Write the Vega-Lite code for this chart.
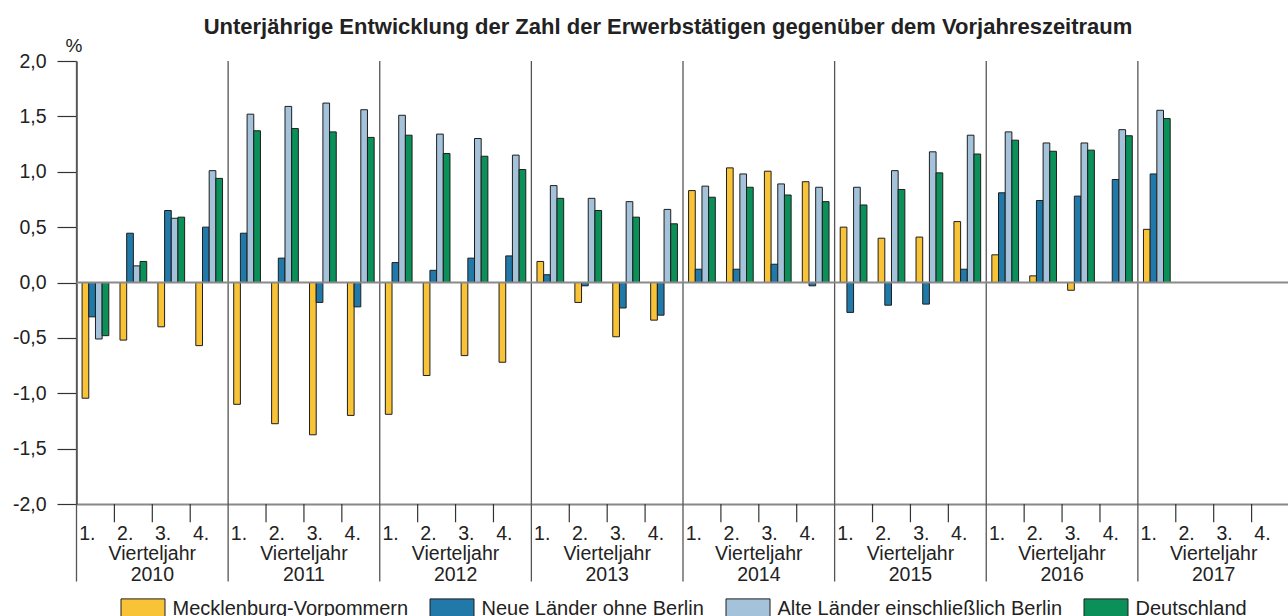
{
  "$schema": "https://vega.github.io/schema/vega-lite/v6.json",
  "width": 1213,
  "height": 443,
  "autosize": "none",
  "padding": {"left": 76.5, "top": 61, "right": 0, "bottom": 112},
  "config": {
    "font": "Liberation Sans",
    "view": {"stroke": null},
    "axis": {"grid": false}
  },
  "title": {
    "text": "Unterjährige Entwicklung der Zahl der Erwerbstätigen gegenüber dem Vorjahreszeitraum",
    "font": "Liberation Sans",
    "fontSize": 22,
    "fontWeight": "bold",
    "color": "#222222",
    "anchor": "middle",
    "frame": "group",
    "baseline": "alphabetic",
    "offset": 6.5,
    "dx": -15,
    "dy": 26
  },
  "datasets": {
    "years": [
      {"q": "2010-1", "m": "2010-3", "yr": "2010"},
      {"q": "2011-1", "m": "2011-3", "yr": "2011"},
      {"q": "2012-1", "m": "2012-3", "yr": "2012"},
      {"q": "2013-1", "m": "2013-3", "yr": "2013"},
      {"q": "2014-1", "m": "2014-3", "yr": "2014"},
      {"q": "2015-1", "m": "2015-3", "yr": "2015"},
      {"q": "2016-1", "m": "2016-3", "yr": "2016"},
      {"q": "2017-1", "m": "2017-3", "yr": "2017"}
    ],
    "quarters": [
      {"q": "2010-2"}, {"q": "2010-3"}, {"q": "2010-4"},
      {"q": "2011-2"}, {"q": "2011-3"}, {"q": "2011-4"},
      {"q": "2012-2"}, {"q": "2012-3"}, {"q": "2012-4"},
      {"q": "2013-2"}, {"q": "2013-3"}, {"q": "2013-4"},
      {"q": "2014-2"}, {"q": "2014-3"}, {"q": "2014-4"},
      {"q": "2015-2"}, {"q": "2015-3"}, {"q": "2015-4"},
      {"q": "2016-2"}, {"q": "2016-3"}, {"q": "2016-4"},
      {"q": "2017-2"}, {"q": "2017-3"}, {"q": "2017-4"}
    ],
    "bars": [
      {"q": "2010-1", "s": "Mecklenburg-Vorpommern", "v": -1.045},
      {"q": "2010-1", "s": "Neue Länder ohne Berlin", "v": -0.31},
      {"q": "2010-1", "s": "Alte Länder einschließlich Berlin", "v": -0.51},
      {"q": "2010-1", "s": "Deutschland", "v": -0.48},
      {"q": "2010-2", "s": "Mecklenburg-Vorpommern", "v": -0.52},
      {"q": "2010-2", "s": "Neue Länder ohne Berlin", "v": 0.445},
      {"q": "2010-2", "s": "Alte Länder einschließlich Berlin", "v": 0.15},
      {"q": "2010-2", "s": "Deutschland", "v": 0.19},
      {"q": "2010-3", "s": "Mecklenburg-Vorpommern", "v": -0.4},
      {"q": "2010-3", "s": "Neue Länder ohne Berlin", "v": 0.65},
      {"q": "2010-3", "s": "Alte Länder einschließlich Berlin", "v": 0.58},
      {"q": "2010-3", "s": "Deutschland", "v": 0.59},
      {"q": "2010-4", "s": "Mecklenburg-Vorpommern", "v": -0.57},
      {"q": "2010-4", "s": "Neue Länder ohne Berlin", "v": 0.5},
      {"q": "2010-4", "s": "Alte Länder einschließlich Berlin", "v": 1.01},
      {"q": "2010-4", "s": "Deutschland", "v": 0.94},
      {"q": "2011-1", "s": "Mecklenburg-Vorpommern", "v": -1.1},
      {"q": "2011-1", "s": "Neue Länder ohne Berlin", "v": 0.445},
      {"q": "2011-1", "s": "Alte Länder einschließlich Berlin", "v": 1.52},
      {"q": "2011-1", "s": "Deutschland", "v": 1.37},
      {"q": "2011-2", "s": "Mecklenburg-Vorpommern", "v": -1.275},
      {"q": "2011-2", "s": "Neue Länder ohne Berlin", "v": 0.22},
      {"q": "2011-2", "s": "Alte Länder einschließlich Berlin", "v": 1.59},
      {"q": "2011-2", "s": "Deutschland", "v": 1.39},
      {"q": "2011-3", "s": "Mecklenburg-Vorpommern", "v": -1.375},
      {"q": "2011-3", "s": "Neue Länder ohne Berlin", "v": -0.18},
      {"q": "2011-3", "s": "Alte Länder einschließlich Berlin", "v": 1.62},
      {"q": "2011-3", "s": "Deutschland", "v": 1.36},
      {"q": "2011-4", "s": "Mecklenburg-Vorpommern", "v": -1.2},
      {"q": "2011-4", "s": "Neue Länder ohne Berlin", "v": -0.22},
      {"q": "2011-4", "s": "Alte Länder einschließlich Berlin", "v": 1.56},
      {"q": "2011-4", "s": "Deutschland", "v": 1.31},
      {"q": "2012-1", "s": "Mecklenburg-Vorpommern", "v": -1.19},
      {"q": "2012-1", "s": "Neue Länder ohne Berlin", "v": 0.18},
      {"q": "2012-1", "s": "Alte Länder einschließlich Berlin", "v": 1.51},
      {"q": "2012-1", "s": "Deutschland", "v": 1.33},
      {"q": "2012-2", "s": "Mecklenburg-Vorpommern", "v": -0.84},
      {"q": "2012-2", "s": "Neue Länder ohne Berlin", "v": 0.11},
      {"q": "2012-2", "s": "Alte Länder einschließlich Berlin", "v": 1.34},
      {"q": "2012-2", "s": "Deutschland", "v": 1.165},
      {"q": "2012-3", "s": "Mecklenburg-Vorpommern", "v": -0.66},
      {"q": "2012-3", "s": "Neue Länder ohne Berlin", "v": 0.22},
      {"q": "2012-3", "s": "Alte Länder einschließlich Berlin", "v": 1.3},
      {"q": "2012-3", "s": "Deutschland", "v": 1.14},
      {"q": "2012-4", "s": "Mecklenburg-Vorpommern", "v": -0.72},
      {"q": "2012-4", "s": "Neue Länder ohne Berlin", "v": 0.24},
      {"q": "2012-4", "s": "Alte Länder einschließlich Berlin", "v": 1.15},
      {"q": "2012-4", "s": "Deutschland", "v": 1.02},
      {"q": "2013-1", "s": "Mecklenburg-Vorpommern", "v": 0.19},
      {"q": "2013-1", "s": "Neue Länder ohne Berlin", "v": 0.07},
      {"q": "2013-1", "s": "Alte Länder einschließlich Berlin", "v": 0.875},
      {"q": "2013-1", "s": "Deutschland", "v": 0.76},
      {"q": "2013-2", "s": "Mecklenburg-Vorpommern", "v": -0.18},
      {"q": "2013-2", "s": "Neue Länder ohne Berlin", "v": -0.03},
      {"q": "2013-2", "s": "Alte Länder einschließlich Berlin", "v": 0.76},
      {"q": "2013-2", "s": "Deutschland", "v": 0.65},
      {"q": "2013-3", "s": "Mecklenburg-Vorpommern", "v": -0.49},
      {"q": "2013-3", "s": "Neue Länder ohne Berlin", "v": -0.23},
      {"q": "2013-3", "s": "Alte Länder einschließlich Berlin", "v": 0.73},
      {"q": "2013-3", "s": "Deutschland", "v": 0.59},
      {"q": "2013-4", "s": "Mecklenburg-Vorpommern", "v": -0.34},
      {"q": "2013-4", "s": "Neue Länder ohne Berlin", "v": -0.295},
      {"q": "2013-4", "s": "Alte Länder einschließlich Berlin", "v": 0.66},
      {"q": "2013-4", "s": "Deutschland", "v": 0.53},
      {"q": "2014-1", "s": "Mecklenburg-Vorpommern", "v": 0.83},
      {"q": "2014-1", "s": "Neue Länder ohne Berlin", "v": 0.12},
      {"q": "2014-1", "s": "Alte Länder einschließlich Berlin", "v": 0.87},
      {"q": "2014-1", "s": "Deutschland", "v": 0.77},
      {"q": "2014-2", "s": "Mecklenburg-Vorpommern", "v": 1.035},
      {"q": "2014-2", "s": "Neue Länder ohne Berlin", "v": 0.12},
      {"q": "2014-2", "s": "Alte Länder einschließlich Berlin", "v": 0.98},
      {"q": "2014-2", "s": "Deutschland", "v": 0.86},
      {"q": "2014-3", "s": "Mecklenburg-Vorpommern", "v": 1.005},
      {"q": "2014-3", "s": "Neue Länder ohne Berlin", "v": 0.165},
      {"q": "2014-3", "s": "Alte Länder einschließlich Berlin", "v": 0.89},
      {"q": "2014-3", "s": "Deutschland", "v": 0.79},
      {"q": "2014-4", "s": "Mecklenburg-Vorpommern", "v": 0.91},
      {"q": "2014-4", "s": "Neue Länder ohne Berlin", "v": -0.03},
      {"q": "2014-4", "s": "Alte Länder einschließlich Berlin", "v": 0.86},
      {"q": "2014-4", "s": "Deutschland", "v": 0.73},
      {"q": "2015-1", "s": "Mecklenburg-Vorpommern", "v": 0.5},
      {"q": "2015-1", "s": "Neue Länder ohne Berlin", "v": -0.27},
      {"q": "2015-1", "s": "Alte Länder einschließlich Berlin", "v": 0.86},
      {"q": "2015-1", "s": "Deutschland", "v": 0.7},
      {"q": "2015-2", "s": "Mecklenburg-Vorpommern", "v": 0.4},
      {"q": "2015-2", "s": "Neue Länder ohne Berlin", "v": -0.205},
      {"q": "2015-2", "s": "Alte Länder einschließlich Berlin", "v": 1.01},
      {"q": "2015-2", "s": "Deutschland", "v": 0.84},
      {"q": "2015-3", "s": "Mecklenburg-Vorpommern", "v": 0.41},
      {"q": "2015-3", "s": "Neue Länder ohne Berlin", "v": -0.195},
      {"q": "2015-3", "s": "Alte Länder einschließlich Berlin", "v": 1.18},
      {"q": "2015-3", "s": "Deutschland", "v": 0.99},
      {"q": "2015-4", "s": "Mecklenburg-Vorpommern", "v": 0.55},
      {"q": "2015-4", "s": "Neue Länder ohne Berlin", "v": 0.12},
      {"q": "2015-4", "s": "Alte Länder einschließlich Berlin", "v": 1.33},
      {"q": "2015-4", "s": "Deutschland", "v": 1.16},
      {"q": "2016-1", "s": "Mecklenburg-Vorpommern", "v": 0.25},
      {"q": "2016-1", "s": "Neue Länder ohne Berlin", "v": 0.81},
      {"q": "2016-1", "s": "Alte Länder einschließlich Berlin", "v": 1.36},
      {"q": "2016-1", "s": "Deutschland", "v": 1.285},
      {"q": "2016-2", "s": "Mecklenburg-Vorpommern", "v": 0.06},
      {"q": "2016-2", "s": "Neue Länder ohne Berlin", "v": 0.74},
      {"q": "2016-2", "s": "Alte Länder einschließlich Berlin", "v": 1.26},
      {"q": "2016-2", "s": "Deutschland", "v": 1.185},
      {"q": "2016-3", "s": "Mecklenburg-Vorpommern", "v": -0.07},
      {"q": "2016-3", "s": "Neue Länder ohne Berlin", "v": 0.78},
      {"q": "2016-3", "s": "Alte Länder einschließlich Berlin", "v": 1.26},
      {"q": "2016-3", "s": "Deutschland", "v": 1.195},
      {"q": "2016-4", "s": "Mecklenburg-Vorpommern", "v": 0.0},
      {"q": "2016-4", "s": "Neue Länder ohne Berlin", "v": 0.93},
      {"q": "2016-4", "s": "Alte Länder einschließlich Berlin", "v": 1.38},
      {"q": "2016-4", "s": "Deutschland", "v": 1.325},
      {"q": "2017-1", "s": "Mecklenburg-Vorpommern", "v": 0.48},
      {"q": "2017-1", "s": "Neue Länder ohne Berlin", "v": 0.98},
      {"q": "2017-1", "s": "Alte Länder einschließlich Berlin", "v": 1.555},
      {"q": "2017-1", "s": "Deutschland", "v": 1.48}
    ]
  },
  "layer": [
    {
      "data": {"name": "years"},
      "mark": {"type": "rule", "color": "#555555", "strokeWidth": 1.3},
      "encoding": {
        "x": {"field": "q", "type": "nominal", "bandPosition": 0},
        "y": {"datum": 2, "type": "quantitative"},
        "y2": {"datum": -2.7}
      }
    },
    {
      "data": {"name": "quarters"},
      "mark": {"type": "rule", "color": "#333333", "strokeWidth": 1.2},
      "encoding": {
        "x": {"field": "q", "type": "nominal", "bandPosition": 0},
        "y": {"datum": -2, "type": "quantitative"},
        "y2": {"datum": -2.165}
      }
    },
    {
      "data": {"name": "bars"},
      "mark": {"type": "bar", "stroke": "#1e1e1e", "strokeWidth": 1},
      "encoding": {
        "x": {
          "field": "q",
          "type": "nominal",
          "sort": null,
          "scale": {
            "domain": ["2010-1","2010-2","2010-3","2010-4","2011-1","2011-2","2011-3","2011-4","2012-1","2012-2","2012-3","2012-4","2013-1","2013-2","2013-3","2013-4","2014-1","2014-2","2014-3","2014-4","2015-1","2015-2","2015-3","2015-4","2016-1","2016-2","2016-3","2016-4","2017-1","2017-2","2017-3","2017-4"],
            "paddingInner": 0,
            "paddingOuter": 0
          },
          "axis": {
            "title": null,
            "ticks": false,
            "labelExpr": "substring(datum.label, 5) + '.'",
            "labelAngle": 0,
            "labelFontSize": 19.5,
            "labelColor": "#222222",
            "labelPadding": 29,
            "domainColor": "#888888",
            "domainWidth": 2
          }
        },
        "xOffset": {
          "field": "s",
          "type": "nominal",
          "sort": ["Mecklenburg-Vorpommern", "Neue Länder ohne Berlin", "Alte Länder einschließlich Berlin", "Deutschland"],
          "scale": {"paddingInner": 0, "paddingOuter": 0.835}
        },
        "y": {
          "field": "v",
          "type": "quantitative",
          "scale": {"domain": [-2, 2], "nice": false, "zero": false},
          "axis": {
            "title": "%",
            "titleAngle": 0,
            "titleFontSize": 19,
            "titleFontWeight": "normal",
            "titleColor": "#222222",
            "titleAlign": "center",
            "titleBaseline": "middle",
            "titleX": -3,
            "titleY": -16,
            "values": [-2, -1.5, -1, -0.5, 0, 0.5, 1, 1.5, 2],
            "labelExpr": "(datum.value < 0 ? '-' : '') + replace(format(abs(datum.value), '.1f'), '.', ',')",
            "labelFontSize": 19.5,
            "labelColor": "#222222",
            "labelPadding": 11,
            "tickSize": 19.5,
            "tickColor": "#333333",
            "tickWidth": 1.2,
            "domainColor": "#333333",
            "domainWidth": 1.3
          }
        },
        "color": {
          "field": "s",
          "type": "nominal",
          "scale": {
            "domain": ["Mecklenburg-Vorpommern", "Neue Länder ohne Berlin", "Alte Länder einschließlich Berlin", "Deutschland"],
            "range": ["#F9C338", "#2079A8", "#A4C2DA", "#0A9058"]
          },
          "legend": {
            "title": null,
            "orient": "none",
            "direction": "horizontal",
            "legendX": 44,
            "legendY": 525,
            "symbolType": "M-1,-0.45H1V0.45H-1Z",
            "symbolSize": 1936,
            "symbolStrokeColor": "#1e1e1e",
            "symbolStrokeWidth": 1,
            "symbolOpacity": 1,
            "labelFontSize": 20,
            "labelColor": "#222222",
            "labelOffset": 7,
            "labelLimit": 500,
            "labelExpr": "datum.label == 'Alte Länder einschließlich Berlin' ? datum.label + '\u00a0\u00a0\u00a0\u00a0\u00a0' : datum.label",
            "columnPadding": 19
          }
        }
      }
    },
    {
      "data": {"values": [{"z": 0}]},
      "mark": {"type": "rule", "color": "#8a8a8a", "strokeWidth": 2},
      "encoding": {"y": {"field": "z", "type": "quantitative"}}
    },
    {
      "data": {"name": "years"},
      "mark": {"type": "text", "text": "Vierteljahr", "fontSize": 19.5, "color": "#222222", "baseline": "middle"},
      "encoding": {
        "x": {"field": "m", "type": "nominal", "bandPosition": 0},
        "y": {"datum": -2.447, "type": "quantitative"}
      }
    },
    {
      "data": {"name": "years"},
      "mark": {"type": "text", "fontSize": 19.5, "color": "#222222", "baseline": "middle"},
      "encoding": {
        "x": {"field": "m", "type": "nominal", "bandPosition": 0},
        "y": {"datum": -2.637, "type": "quantitative"},
        "text": {"field": "yr", "type": "nominal"}
      }
    }
  ]
}
